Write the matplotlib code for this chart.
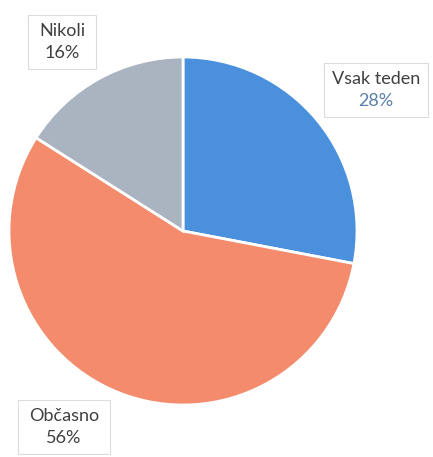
import matplotlib.pyplot as plt
from matplotlib.patches import Rectangle

# Data
labels = ['Vsak teden', 'Občasno', 'Nikoli']
shares = [28, 56, 16]
colors = ['#4a90dc', '#f38b6c', '#aab3c0']

plt.rcParams['font.family'] = ['Lato', 'DejaVu Sans']

fig = plt.figure(figsize=(4.33, 4.57), dpi=100)
ax = fig.add_axes([0, 0, 1, 1])

# pie centre at about (183, 231) px, radius ~174 px
cx, cy, r = 183, 231, 174
ax.pie(shares, colors=colors, startangle=90, counterclock=False,
       wedgeprops=dict(edgecolor='white', linewidth=2))
ax.set_aspect('auto')
ax.set_xlim(-cx / r, (433 - cx) / r)
ax.set_ylim((cy - 457) / r, cy / r)
ax.axis('off')

# label boxes in pixels: centre x, centre y (from top), width, height
label_px = [(376, 90, 104, 54), (64, 427, 92, 54), (62, 42, 68, 54)]
pct_colors = ['#5b7fa8', '#404040', '#404040']
for lab, val, (px, py, bw, bh), pc in zip(labels, shares, label_px, pct_colors):
    x = (px - cx) / r
    y = (cy - py) / r
    ax.add_patch(Rectangle((x - bw / 2 / r, y - bh / 2 / r), bw / r, bh / r,
                           facecolor='white', edgecolor='#dcdcdc', linewidth=0.8, zorder=3))
    ax.text(x, y + 11 / r, lab, ha='center', va='center', fontsize=13,
            color='#404040', zorder=4)
    ax.text(x, y - 11 / r, f'{val}%', ha='center', va='center', fontsize=13,
            color=pc, zorder=4)

fig.savefig('out.png', dpi=100)
